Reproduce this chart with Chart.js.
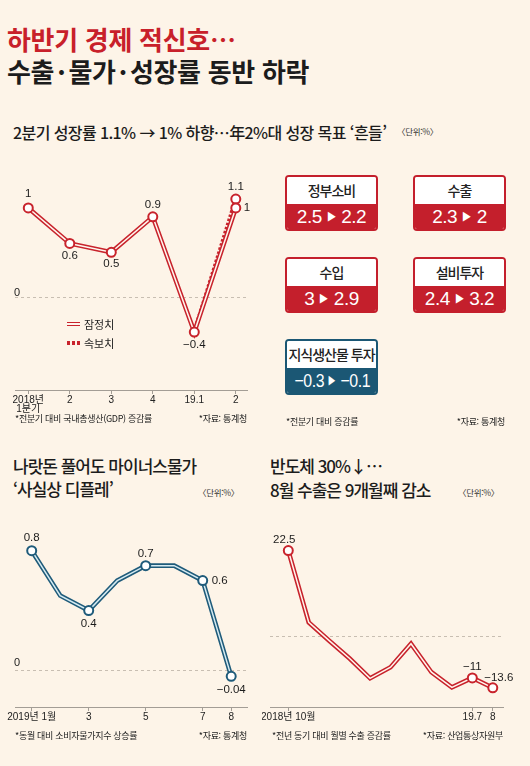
<!DOCTYPE html>
<html lang="ko">
<head>
<meta charset="utf-8">
<script src="https://cdn.jsdelivr.net/npm/chart.js@4.4.1/dist/chart.umd.min.js"></script>
<style>
  html, body { margin: 0; padding: 0; }
  body {
    width: 530px; height: 766px; position: relative; overflow: hidden;
    background: #fdf4e8; color: #1c1c1c;
    font-family: "Noto Sans CJK KR", "Noto Sans", sans-serif;
  }
  .t { position: absolute; white-space: nowrap; }
  .h1 { font-size: 26px; font-weight: 700; line-height: 30px; letter-spacing: -0.3px; }
  .h1 .dot { margin: 0 3px; }
  .h2 { font-size: 16px; font-weight: 500; line-height: 20px; letter-spacing: -0.6px; }
  .h3 { font-size: 17px; font-weight: 500; line-height: 20px; letter-spacing: -1px; }
  .unit { font-size: 8.5px; line-height: 10px; color: #333; letter-spacing: -0.3px; }
  .note { font-size: 9px; line-height: 12px; color: #222; letter-spacing: -0.3px; }
  .lab { font-size: 11px; line-height: 14px; color: #222; }
  .wrap { position: absolute; }
  .box { position: absolute; width: 93px; height: 56px; box-sizing: border-box; border: 2px solid; border-radius: 4px; overflow: hidden; }
  .box .hd { height: 27px; line-height: 27px; background: #fff; text-align: center; font-size: 14px; font-weight: 500; letter-spacing: -1px; color: #222; }
  .box .vl { height: 25px; line-height: 25px; text-align: center; color: #fff; font-family: "Liberation Sans", sans-serif; font-size: 19px; letter-spacing: -0.5px; }
  .box .vl span { display: inline-block; white-space: nowrap; }
  .box .vl small { font-size: 12px; margin: 0 4px; position: relative; top: -2px; }
  .leg1 { position: absolute; left: 67px; top: 322px; width: 13px; height: 1.5px; border-top: 1.5px solid #c8232c; border-bottom: 1.5px solid #c8232c; background: #fff6ee; }
  .leg2 { position: absolute; left: 67px; top: 341px; width: 14px; height: 4px;
          background: repeating-linear-gradient(90deg, #c8232c 0 3px, transparent 3px 5px); }
</style>
</head>
<body>

<div class="t h1" style="left:7px; top:24px; color:#c8202a;">하반기 경제 적신호…</div>
<div class="t h1" style="left:7px; top:56px;">수출<span class="dot">·</span>물가<span class="dot">·</span>성장률 동반 하락</div>

<div class="t h2" style="left:13px; top:122px;">2분기 성장률 1.1% → 1% 하향…年2%대 성장 목표 ‘흔들’</div>
<div class="t unit" style="left:397px; top:126px;">〈단위:%〉</div>

<div class="wrap" style="left:0; top:170px; width:262px; height:250px;"><canvas id="gdp"></canvas></div>
<div class="leg1"></div>
<div class="t lab" style="left:84px; top:317px;">잠정치</div>
<div class="leg2"></div>
<div class="t lab" style="left:84px; top:336px;">속보치</div>
<div class="t note" style="left:15px; top:413px;">*전분기 대비 국내총생산(GDP) 증감률</div>
<div class="t note" style="right:283px; top:413px;">*자료: 통계청</div>

<div id="boxes"></div>
<div class="t note" style="left:286px; top:416px;">*전분기 대비 증감률</div>
<div class="t note" style="right:25px; top:416px;">*자료: 통계청</div>

<div class="t h3" style="left:13px; top:456px;">나랏돈 풀어도 마이너스물가</div>
<div class="t h3" style="left:13px; top:479px;">‘사실상 디플레’</div>
<div class="t unit" style="left:198px; top:487px;">〈단위:%〉</div>
<div class="wrap" style="left:0; top:530px; width:262px; height:200px;"><canvas id="cpi"></canvas></div>
<div class="t note" style="left:15px; top:730px;">*동월 대비 소비자물가지수 상승률</div>
<div class="t note" style="right:283px; top:730px;">*자료: 통계청</div>

<div class="t h3" style="left:270px; top:456px;">반도체 30%↓…</div>
<div class="t h3" style="left:270px; top:480px;">8월 수출은 9개월째 감소</div>
<div class="t unit" style="left:458px; top:487px;">〈단위:%〉</div>
<div class="wrap" style="left:262px; top:530px; width:268px; height:200px;"><canvas id="exp"></canvas></div>
<div class="t note" style="left:272px; top:730px;">*전년 동기 대비 월별 수출 증감률</div>
<div class="t note" style="right:27px; top:730px;">*자료: 산업통상자원부</div>

<script>
// ---- data ----
const GDP_QUARTERS = [['2018년', '1분기'], '2', '3', '4', '19.1', '2'];
const GDP_PRELIM   = [1, 0.6, 0.5, 0.9, -0.4, 1];          // 잠정치
const GDP_ADVANCE  = [null, null, null, null, -0.4, 1.1];  // 속보치

const BOX_ITEMS  = ['정부소비', '수출', '수입', '설비투자', '지식생산물 투자'];
const BOX_BEFORE = [2.5, 2.3, 3, 2.4, -0.3];
const BOX_AFTER  = [2.2, 2, 2.9, 3.2, -0.1];

const CPI_MONTHS = ['2019년 1월', '', '3', '', '5', '', '7', '8'];
const CPI_VALUES = [0.8, 0.5, 0.4, 0.6, 0.7, 0.7, 0.6, -0.04];

const EXP_MONTHS = ['2018년 10월', '', '', '', '', '', '', '', '', '19.7', '8'];
const EXP_VALUES = [22.5, 3.6, -1.2, -5.9, -11.1, -8.2, -2.0, -9.5, -13.5, -11, -13.6];

const RED = '#c8232c';
const BLUE = '#1f5b7a';
const fmt = v => (v < 0 ? '\u2212' : '') + Math.abs(v);

// ---- component boxes ----
const boxesEl = document.getElementById('boxes');
BOX_ITEMS.forEach((name, i) => {
  const col = i === BOX_ITEMS.length - 1 ? '#1b5774' : '#c41f2c';
  const d = document.createElement('div');
  d.className = 'box';
  d.style.left = (285 + (i % 2) * 128) + 'px';
  d.style.top = (175 + Math.floor(i / 2) * 82) + 'px';
  d.style.borderColor = col;
  d.innerHTML = `<div class="hd">${name}</div>
    <div class="vl" style="background:${col}"><span>${fmt(BOX_BEFORE[i])}<small>&#9654;</small>${fmt(BOX_AFTER[i])}</span></div>`;
  boxesEl.appendChild(d);
  // squeeze long values into the box, like the condensed face in the print version
  const s = d.querySelector('.vl span');
  const w = s.offsetWidth;
  if (w > 76) s.style.transform = `scaleX(${76 / w})`;
});

// ---- charts ----
Chart.defaults.font.family = '"Liberation Sans", "Noto Sans CJK KR", sans-serif';
Chart.defaults.color = '#222';

const annot = {
  id: 'annot',
  beforeDatasetsDraw(chart, args, opts) {
    const { ctx, chartArea: a, scales: { y } } = chart;
    const y0 = Math.round(y.getPixelForValue(0)) + 0.5;
    ctx.save();
    ctx.strokeStyle = '#c8beb2';
    ctx.lineWidth = 1;
    ctx.setLineDash([3, 3]);
    ctx.beginPath(); ctx.moveTo(a.left, y0); ctx.lineTo(a.right, y0); ctx.stroke();
    if (opts.zeroGap) {
      ctx.fillStyle = '#222';
      ctx.font = '11px "Liberation Sans"';
      ctx.textAlign = 'left';
      ctx.textBaseline = 'alphabetic';
      ctx.fillText('0', a.left - 1, y0 - opts.zeroGap);
    }
    ctx.restore();
  },
  afterDatasetsDraw(chart, args, opts) {
    const { ctx } = chart;
    ctx.save();
    ctx.fillStyle = '#1c1c1c';
    ctx.font = '11.5px "Liberation Sans"';
    ctx.textBaseline = 'middle';
    (opts.labels || []).forEach(l => {
      const el = chart.getDatasetMeta(l.ds).data[l.i];
      const v = chart.data.datasets[l.ds].data[l.i].y;
      ctx.textAlign = l.align || 'center';
      ctx.fillText(fmt(v), el.x + (l.dx || 0), el.y + (l.dy || 0));
    });
    ctx.restore();
  }
};

const pts = vals => vals.map((v, i) => ({ x: i, y: v }));

function doubleLine(vals, outer, inner, order) {
  return [
    { data: pts(vals), borderColor: outer, borderWidth: 4.6, pointRadius: 0, order: order + 1 },
    { data: pts(vals), borderColor: inner, borderWidth: 1.5, pointRadius: 0, order: order }
  ];
}

function markers(vals, color, marked) {
  return {
    data: pts(vals), showLine: false, order: 0,
    pointRadius: c => marked.includes(c.dataIndex) ? 4.5 : 0,
    pointBackgroundColor: '#fff', pointBorderColor: color, pointBorderWidth: 2
  };
}

function makeOptions(xMin, xMax, yMin, yMax, tickLabels, axisH, pad, labels, zeroGap) {
  return {
    responsive: true, maintainAspectRatio: false, animation: false,
    layout: { padding: pad },
    plugins: { legend: { display: false }, tooltip: { enabled: false }, annot: { labels, zeroGap } },
    elements: { line: { tension: 0 } },
    scales: {
      x: {
        type: 'linear', min: xMin, max: xMax,
        afterBuildTicks: s => { s.ticks = tickLabels.map((t, i) => ({ value: i })).filter(t => tickLabels[t.value] !== ''); },
        afterFit: s => { s.height = axisH; s.paddingLeft = 0; s.paddingRight = 0; },
        ticks: { callback: v => tickLabels[v], autoSkip: false, maxRotation: 0, padding: 2, font: { size: 10, lineHeight: 0.85 }, color: '#222' },
        grid: { drawOnChartArea: false, drawTicks: true, tickLength: 4, color: '#a39d95' },
        border: { color: '#a39d95', width: 1 }
      },
      y: { display: false, min: yMin, max: yMax }
    }
  };
}

// GDP: ds0 prelim outer, ds1 prelim inner, ds2 advance dashed, ds3 prelim markers, ds4 advance marker
new Chart(document.getElementById('gdp'), {
  type: 'line',
  plugins: [annot],
  data: {
    datasets: [
      ...doubleLine(GDP_PRELIM, RED, '#fff6ee', 2),
      { data: pts(GDP_ADVANCE), borderColor: RED, borderWidth: 4, borderDash: [2.5, 1.8], pointRadius: 0, order: 6 },
      markers(GDP_PRELIM, RED, [0, 1, 2, 3, 4, 5]),
      markers(GDP_ADVANCE, RED, [5])
    ]
  },
  options: makeOptions(-0.32, 5.27, -1.053, 1.355, GDP_QUARTERS, 30, { top: 5, left: 15, right: 15, bottom: 0 }, [
    { ds: 3, i: 0, dy: -14 },
    { ds: 3, i: 1, dy: 12 },
    { ds: 3, i: 2, dy: 12 },
    { ds: 3, i: 3, dy: -12 },
    { ds: 3, i: 4, dy: 13 },
    { ds: 4, i: 5, dy: -12 },
    { ds: 3, i: 5, dx: 8, align: 'left' }
  ], 2)
});

// CPI
new Chart(document.getElementById('cpi'), {
  type: 'line',
  plugins: [annot],
  data: {
    datasets: [
      ...doubleLine(CPI_VALUES, BLUE, '#d6ebf2', 2),
      markers(CPI_VALUES, BLUE, [0, 2, 4, 6, 7])
    ]
  },
  options: makeOptions(-0.586, 7.554, -0.245, 0.895, CPI_MONTHS, 23, { top: 5, left: 15, right: 15, bottom: 0 }, [
    { ds: 2, i: 0, dy: -13 },
    { ds: 2, i: 2, dy: 13 },
    { ds: 2, i: 4, dy: -12 },
    { ds: 2, i: 6, dx: 9, align: 'left' },
    { ds: 2, i: 7, dy: 13 }
  ], 5)
});

// Exports
new Chart(document.getElementById('exp'), {
  type: 'line',
  plugins: [annot],
  data: {
    datasets: [
      ...doubleLine(EXP_VALUES, RED, '#fff6ee', 2),
      markers(EXP_VALUES, RED, [0, 9, 10])
    ]
  },
  options: makeOptions(-0.895, 10.5, -18.65, 26.2, EXP_MONTHS, 23, { top: 5, left: 8, right: 27, bottom: 0 }, [
    { ds: 2, i: 0, dx: -4, dy: -11 },
    { ds: 2, i: 9, dy: -11 },
    { ds: 2, i: 10, dx: 6, dy: -10 }
  ], 0)
});
</script>
</body>
</html>
